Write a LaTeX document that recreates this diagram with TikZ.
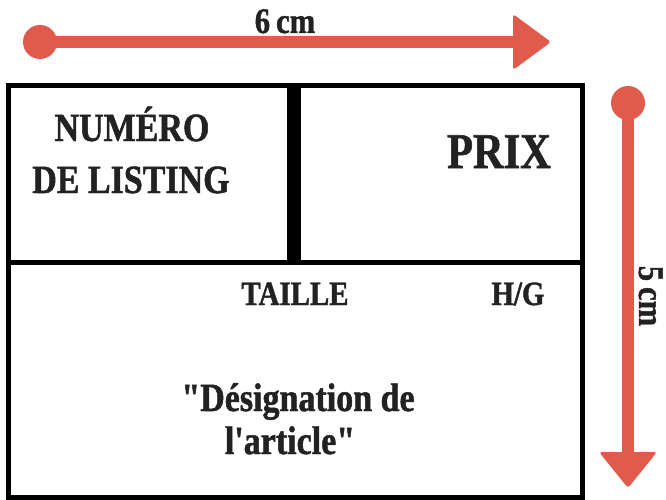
\documentclass[tikz,border=0pt]{standalone}
\usepackage{fontspec}
\newfontfamily\pf[FakeStretch=0.85,FakeBold=1.2,Ligatures=TeXOff]{Liberation Serif}
\definecolor{accent}{HTML}{E05B4B}
\definecolor{ink}{HTML}{222222}
\begin{document}
\begin{tikzpicture}[x=1pt,y=-1pt,
  frameline/.style={draw=black,line width=5pt},
  lbl/.style={font=\pf\bfseries,text=ink,inner sep=0pt,anchor=base},
  redc/.style={circle,fill=accent,minimum size=34pt,inner sep=0pt},
  shaft/.style={draw=accent,line width=12pt},
  headtri/.style={fill=accent,rounded corners=3pt}]
\useasboundingbox (0,0) rectangle (666,500);
% frame
\draw[frameline] (8.5,86) rectangle (582,497);
\draw[frameline] (8.5,262) -- (582,262);
\fill[black] (287,86) rectangle (301,262);
% top arrow
\node[redc] (c1) at (40,42) {};
\coordinate (b1) at (516,42);
\draw[shaft] (c1.center) -- (b1);
\fill[headtri] (513,14) -- (551,42) -- (513,70) -- cycle;
\node[lbl,font=\pf\bfseries\fontsize{36}{36}\selectfont] (w) at (285,33) {6\,cm};
% right arrow
\node[redc] (c2) at (628,103) {};
\coordinate (b2) at (628,455);
\draw[shaft] (c2.center) -- (b2);
\fill[headtri] (599,452) -- (628,488) -- (657,452) -- cycle;
\node[font=\pf\bfseries\fontsize{36}{36}\selectfont,text=ink,inner sep=0pt,
  text height=24pt,text depth=0pt,rotate=-90] (h) at (651,296) {5\,cm};
% labels
\node[lbl,font=\pf\bfseries\fontsize{40}{40}\selectfont] (n1) at (132,141) {NUMÉRO};
\node[lbl,font=\pf\bfseries\fontsize{40}{40}\selectfont] (n2) at (131,193) {DE LISTING};
\node[lbl,font=\pf\bfseries\fontsize{50}{50}\selectfont] (p) at (499,168) {PRIX};
\node[lbl,font=\pf\bfseries\fontsize{34}{34}\selectfont] (t) at (295,305) {TAILLE};
\node[lbl,font=\pf\bfseries\fontsize{34}{34}\selectfont] (hg) at (518,305) {H/G};
\node[lbl,font=\pf\bfseries\fontsize{40}{40}\selectfont] (d1) at (298,411) {"Désignation de};
\node[lbl,font=\pf\bfseries\fontsize{40}{40}\selectfont] (d2) at (290,454) {l'article"};
\end{tikzpicture}
\end{document}
